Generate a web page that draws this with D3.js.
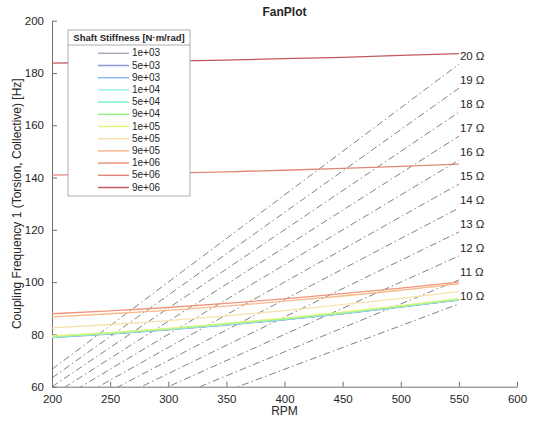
<!DOCTYPE html>
<html>
<head>
<meta charset="utf-8">
<script src="https://cdn.jsdelivr.net/npm/d3@7/dist/d3.min.js"></script>
<style>
  html, body { margin: 0; padding: 0; background: #fff; }
  svg { display: block; font-family: "Liberation Sans", Arial, Helvetica, sans-serif; }
</style>
</head>
<body>
<svg id="chart" width="533" height="421"></svg>
<script>
// Shaft speed samples (RPM)
const rpm = [200, 250, 300, 350, 400, 450, 500, 550];

// Coupling frequency [Hz] for each shaft stiffness, sampled at the rpm points above
const f_1e3 = [78.8, 80.1, 81.7, 83.6, 85.6, 87.9, 90.4, 93.1];
const f_5e3 = [78.9, 80.2, 81.8, 83.7, 85.7, 88.0, 90.5, 93.2];
const f_9e3 = [79.0, 80.3, 81.9, 83.8, 85.8, 88.1, 90.6, 93.3];
const f_1e4 = [79.0, 80.3, 81.9, 83.8, 85.8, 88.1, 90.6, 93.3];
const f_5e4 = [79.1, 80.4, 82.0, 83.9, 85.9, 88.2, 90.7, 93.4];
const f_9e4 = [79.2, 80.5, 82.1, 84.0, 86.0, 88.3, 90.8, 93.5];
const f_1e5 = [79.4, 80.7, 82.3, 84.2, 86.2, 88.5, 91.0, 93.7];
const f_5e5 = [82.5, 83.8, 85.3, 87.1, 89.1, 91.4, 93.8, 96.4];
const f_9e5 = [86.7, 87.9, 89.2, 90.8, 92.7, 94.7, 96.9, 99.3];
const f_1e6 = [87.9, 89.0, 90.3, 91.9, 93.6, 95.6, 97.7, 100.0];
const f_5e6 = [140.9, 141.3, 141.7, 142.2, 142.8, 143.5, 144.3, 145.1];
const f_9e6 = [183.8, 184.1, 184.5, 184.9, 185.5, 186.0, 186.7, 187.4];

const stiffnessLabels = ["1e+03", "5e+03", "9e+03", "1e+04", "5e+04", "9e+04",
                         "1e+05", "5e+05", "9e+05", "1e+06", "5e+06", "9e+06"];
const stiffnessSeries = [f_1e3, f_5e3, f_9e3, f_1e4, f_5e4, f_9e4,
                         f_1e5, f_5e5, f_9e5, f_1e6, f_5e6, f_9e6];
const stiffnessColors = ["#b3a6bd", "#8a98e6", "#8dbaf4", "#98f0ee", "#7cf2cf", "#98f488",
                         "#dcf57a", "#f8e2ab", "#f8b98c", "#f0957a", "#e08878", "#c25a5c"];

// Engine-order (per-rev) lines drawn over the same speed span
const orders = [10, 11, 12, 13, 14, 15, 16, 17, 18, 19, 20];
const orderRpm = [200, 550];

const xTicks = [200, 250, 300, 350, 400, 450, 500, 550, 600];
const yTicks = [60, 80, 100, 120, 140, 160, 180, 200];

const svg = d3.select("#chart");
const plot = { left: 52, right: 517, top: 20.7, bottom: 386.7 };

const x = d3.scaleLinear().domain([200, 600]).range([plot.left, plot.right]);
const y = d3.scaleLinear().domain([60, 200]).range([plot.bottom, plot.top]);

const textColor = "#262626";
const axisColor = "#707070";

svg.append("defs").append("clipPath").attr("id", "plotClip")
  .append("rect")
  .attr("x", plot.left).attr("y", plot.top)
  .attr("width", plot.right - plot.left).attr("height", plot.bottom - plot.top);

// Axes (ticks point inward)
const xAxis = svg.append("g")
  .attr("transform", `translate(0,${plot.bottom})`)
  .call(d3.axisBottom(x).tickValues(xTicks).tickSizeInner(-5).tickSizeOuter(0).tickPadding(8));
const yAxis = svg.append("g")
  .attr("transform", `translate(${plot.left},0)`)
  .call(d3.axisLeft(y).tickValues(yTicks).tickSizeInner(-5).tickSizeOuter(0).tickPadding(8));

[xAxis, yAxis].forEach(g => {
  g.select(".domain").attr("stroke", axisColor).attr("stroke-width", 1);
  g.selectAll(".tick line").attr("stroke", axisColor).attr("stroke-width", 1);
  g.selectAll(".tick text").attr("fill", textColor)
    .style("font-size", "11.5px").style("font-family", "'Liberation Sans', Arial, sans-serif");
});

const layer = svg.append("g").attr("clip-path", "url(#plotClip)");

// Engine-order lines
const orderLine = d3.line().x(d => x(d[0])).y(d => y(d[1]));
orders.forEach(n => {
  const pts = orderRpm.map(r => [r, n * r / 60]);
  layer.append("path")
    .attr("d", orderLine(pts))
    .attr("fill", "none")
    .attr("stroke", "#4a4a4a")
    .attr("stroke-width", 0.7)
    .attr("stroke-dasharray", "7,3,1.5,3");
});

// Stiffness curves
const curve = d3.line().x((d, i) => x(rpm[i])).y(d => y(d));
stiffnessSeries.forEach((vals, i) => {
  layer.append("path")
    .attr("d", curve(vals))
    .attr("fill", "none")
    .attr("stroke", stiffnessColors[i])
    .attr("stroke-width", 1.3);
});

// Order labels at the line ends
orders.forEach(n => {
  svg.append("text")
    .attr("x", x(550) + 1)
    .attr("y", y(n * 550 / 60) - 7)
    .attr("dominant-baseline", "middle")
    .attr("fill", textColor)
    .style("font-size", "11.5px")
    .text(`${n} Ω`);
});

// Title and axis labels
svg.append("text")
  .attr("x", (plot.left + plot.right) / 2).attr("y", 16)
  .attr("text-anchor", "middle").attr("font-weight", "bold")
  .attr("fill", textColor).style("font-size", "12px")
  .text("FanPlot");

svg.append("text")
  .attr("x", (plot.left + plot.right) / 2).attr("y", 415)
  .attr("text-anchor", "middle").attr("fill", textColor).style("font-size", "12px")
  .text("RPM");

svg.append("text")
  .attr("transform", `translate(18,${(plot.top + plot.bottom) / 2}) rotate(-90)`)
  .attr("text-anchor", "middle").attr("dominant-baseline", "middle")
  .attr("fill", textColor).style("font-size", "12px")
  .text("Coupling Frequency 1 (Torsion, Collective) [Hz]");

// Legend
const lg = { x: 68, y: 30, w: 122, h: 166, titleH: 15, row0: 53.3, rowStep: 12.2 };
const legend = svg.append("g");
legend.append("rect")
  .attr("x", lg.x).attr("y", lg.y).attr("width", lg.w).attr("height", lg.h)
  .attr("fill", "#fff").attr("stroke", "#9a9a9a").attr("stroke-width", 0.8);
legend.append("line")
  .attr("x1", lg.x).attr("x2", lg.x + lg.w)
  .attr("y1", lg.y + lg.titleH).attr("y2", lg.y + lg.titleH)
  .attr("stroke", "#9a9a9a").attr("stroke-width", 0.8);
legend.append("text")
  .attr("x", lg.x + lg.w / 2).attr("y", lg.y + lg.titleH / 2 + 0.5)
  .attr("text-anchor", "middle").attr("dominant-baseline", "middle")
  .attr("font-weight", "bold").attr("fill", textColor).style("font-size", "9.5px")
  .text("Shaft Stiffness [N·m/rad]");

stiffnessLabels.forEach((lab, i) => {
  const yy = lg.row0 + i * lg.rowStep;
  legend.append("line")
    .attr("x1", 98).attr("x2", 129).attr("y1", yy).attr("y2", yy)
    .attr("stroke", stiffnessColors[i]).attr("stroke-width", 1.5);
  legend.append("text")
    .attr("x", 132).attr("y", yy + 0.5)
    .attr("dominant-baseline", "middle")
    .attr("fill", textColor).style("font-size", "10px")
    .text(lab);
});
</script>
</body>
</html>
